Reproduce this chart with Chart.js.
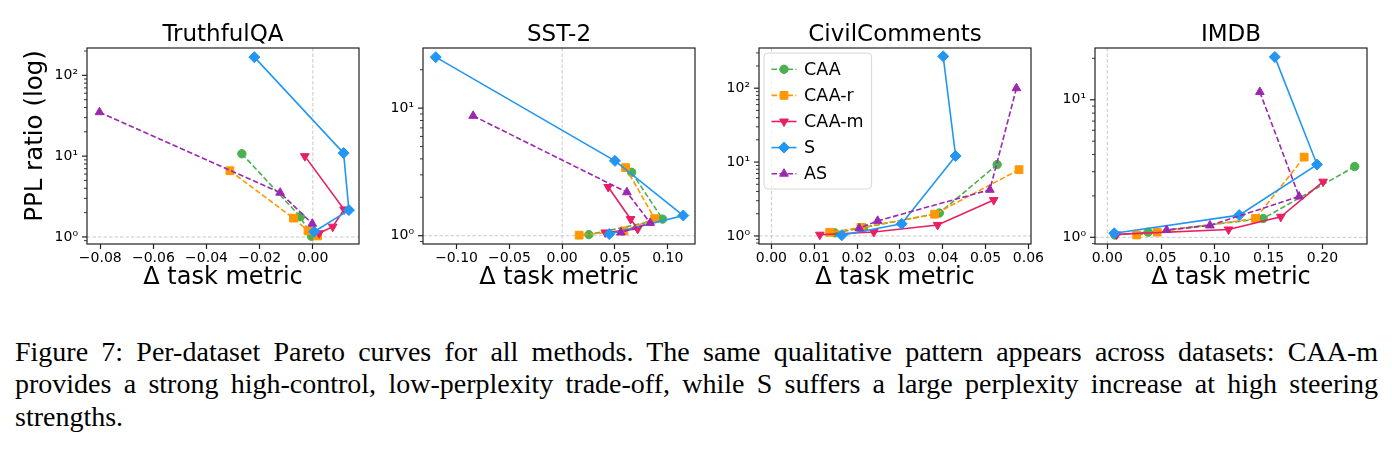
<!DOCTYPE html>
<html>
<head>
<meta charset="utf-8">
<script src="https://cdn.jsdelivr.net/npm/chart.js@4.4.1/dist/chart.umd.min.js"></script>
<style>
  body { margin: 0; width: 1392px; height: 453px; overflow: hidden; position: relative; background: #fff; }
  canvas { position: absolute; top: 0; }
  .cap { position: absolute; left: 15px; font-family: "Liberation Serif", "Times New Roman", serif; font-size: 28px; line-height: 28px; white-space: nowrap; color: #000; transform-origin: 0 0; }
</style>
</head>
<body>
<canvas id="c0" width="380" height="300" style="left:0px"></canvas>
<canvas id="c1" width="380" height="300" style="left:336px"></canvas>
<canvas id="c2" width="380" height="300" style="left:672px"></canvas>
<canvas id="c3" width="380" height="300" style="left:1008px"></canvas>
<div class="cap" id="cap0" style="top:337.5px">Figure 7: Per-dataset Pareto curves for all methods. The same qualitative pattern appears across datasets: CAA-m</div>
<div class="cap" id="cap1" style="top:370px">provides a strong high-control, low-perplexity trade-off, while S suffers a large perplexity increase at high steering</div>
<div class="cap" id="cap2" style="top:402.5px">strengths.</div>
<script>
// Données : [Δ task metric, PPL ratio]
const panelNames = ["TruthfulQA", "SST-2", "CivilComments", "IMDB"];
const methodNames = ["CAA", "CAA-r", "CAA-m", "S", "AS"];

const truthfulqaCAA  = [[-0.0267, 10.7], [-0.0047, 1.78], [-0.0005, 1.02]];
const truthfulqaCAAr = [[-0.0312, 6.6], [-0.0073, 1.71], [-0.0018, 1.19], [0.0018, 1.03]];
const truthfulqaCAAm = [[-0.0030, 10.0], [0.0118, 2.19], [0.0075, 1.34], [0.0024, 1.11]];
const truthfulqaS    = [[-0.0220, 168], [0.0116, 10.9], [0.0136, 2.15], [0.0005, 1.16]];
const truthfulqaAS   = [[-0.0803, 35], [-0.0123, 3.53], [-0.0002, 1.46]];

const sst2CAA  = [[0.0658, 3.14], [0.0951, 1.35], [0.0253, 1.02]];
const sst2CAAr = [[0.0601, 3.42], [0.0876, 1.36], [0.0585, 1.09], [0.0161, 1.01]];
const sst2CAAm = [[0.0436, 2.41], [0.0648, 1.35], [0.0715, 1.13], [0.0408, 1.06]];
const sst2S    = [[-0.1197, 25.1], [0.0500, 3.86], [0.1147, 1.44], [0.0446, 1.03]];
const sst2AS   = [[-0.0843, 8.7], [0.0613, 2.19], [0.0834, 1.26], [0.0556, 1.06]];

const civilCAA  = [[0.0527, 9.25], [0.0392, 2.04], [0.0215, 1.30], [0.0148, 1.10]];
const civilCAAr = [[0.0578, 7.9], [0.0381, 1.97], [0.0209, 1.30], [0.0136, 1.12]];
const civilCAAm = [[0.0519, 3.06], [0.0388, 1.41], [0.0239, 1.13], [0.0113, 1.04]];
const civilS    = [[0.0401, 270], [0.0430, 12.1], [0.0304, 1.46], [0.0164, 1.02]];
const civilAS   = [[0.0572, 100], [0.0510, 4.22], [0.0248, 1.60], [0.0205, 1.27]];

const imdbCAA  = [[0.2300, 3.27], [0.1449, 1.37], [0.0380, 1.09], [0.0070, 1.04]];
const imdbCAAr = [[0.1830, 3.83], [0.1378, 1.37], [0.0464, 1.09], [0.0273, 1.04]];
const imdbCAAm = [[0.2006, 2.54], [0.1613, 1.41], [0.1127, 1.14], [0.0087, 1.05]];
const imdbS    = [[0.1557, 20.5], [0.1950, 3.38], [0.1226, 1.45], [0.0065, 1.07]];
const imdbAS   = [[0.1418, 11.4], [0.1783, 1.98], [0.0954, 1.22], [0.0552, 1.13]];

const panelSeries = [
  [truthfulqaCAA, truthfulqaCAAr, truthfulqaCAAm, truthfulqaS, truthfulqaAS],
  [sst2CAA, sst2CAAr, sst2CAAm, sst2S, sst2AS],
  [civilCAA, civilCAAr, civilCAAm, civilS, civilAS],
  [imdbCAA, imdbCAAr, imdbCAAm, imdbS, imdbAS],
];

// Bornes et pas des axes
const xMins = [-0.085, -0.1318, -0.0029, -0.0114];
const xMaxs = [0.0174, 0.1258, 0.0606, 0.2414];
const xSteps = [0.02, 0.05, 0.01, 0.05];
const yMins = [0.818, 0.861, 0.778, 0.894];
const yMaxs = [218, 29.6, 350, 23.8];

// Styles des séries
const colors = ["#4CAF50", "#FF9800", "#E91E63", "#2196F3", "#9C27B0"];
const dashes = [[5.5, 2.5], [5.5, 2.5], [], [], [5.5, 2.5]];
const markers = ["circle", "rect", "triangle", "rectRot", "triangle"];
const rotations = [0, 0, 180, 0, 0];
const radii = [4.2, 5.5, 5, 5.5, 5];

Chart.defaults.font.family = "'DejaVu Sans', sans-serif";
Chart.defaults.color = "#000";

const supDigits = { "0": "\u2070", "1": "\u00B9", "2": "\u00B2", "3": "\u00B3", "-": "\u207B" };
function isDecade(v) {
  const l = Math.log10(v);
  return Math.abs(l - Math.round(l)) < 1e-9;
}
function formatY(v) {
  if (!isDecade(v)) return "";
  const e = String(Math.round(Math.log10(v)));
  return "10" + e.split("").map(c => supDigits[c]).join("");
}
function formatX(v) {
  if (Math.abs(v) < 1e-9) return "0.00";
  return (v < 0 ? "\u2212" : "") + Math.abs(v).toFixed(2);
}

// Plugin : lignes de référence, cadre, petites graduations, titres, légende
const decor = {
  id: "decor",
  beforeDatasetsDraw(chart) {
    const { ctx, chartArea: a, scales: { x, y } } = chart;
    ctx.save();
    ctx.strokeStyle = "#c4c4c4";
    ctx.lineWidth = 0.9;
    ctx.setLineDash([3.5, 2]);
    const x0 = x.getPixelForValue(0);
    const y1 = y.getPixelForValue(1);
    ctx.beginPath();
    ctx.moveTo(x0, a.top); ctx.lineTo(x0, a.bottom);
    ctx.moveTo(a.left, y1); ctx.lineTo(a.right, y1);
    ctx.stroke();
    ctx.restore();
  },
  afterDatasetsDraw(chart, args, opts) {
    const { ctx, chartArea: a, scales: { y } } = chart;
    ctx.save();
    // cadre
    ctx.strokeStyle = "#222";
    ctx.lineWidth = 1.2;
    ctx.strokeRect(a.left, a.top, a.right - a.left, a.bottom - a.top);
    // graduations de l'axe log
    y.ticks.forEach(t => {
      const py = y.getPixelForValue(t.value);
      const major = isDecade(t.value);
      ctx.lineWidth = major ? 1.2 : 0.9;
      ctx.beginPath();
      ctx.moveTo(a.left - (major ? 5 : 3), py);
      ctx.lineTo(a.left, py);
      ctx.stroke();
    });
    // titre du panneau
    ctx.fillStyle = "#000";
    ctx.font = "23px 'DejaVu Sans'";
    ctx.textAlign = "center";
    ctx.textBaseline = "alphabetic";
    ctx.fillText(opts.title, (a.left + a.right) / 2, a.top - 7.5);
    // titre de l'axe y
    if (opts.yLabel) {
      ctx.save();
      ctx.translate(a.left - 45.5, (a.top + a.bottom) / 2 - 10);
      ctx.rotate(-Math.PI / 2);
      ctx.font = "24.5px 'DejaVu Sans'";
      ctx.fillText(opts.yLabel, 0, 0);
      ctx.restore();
    }
    if (opts.legend) drawLegend(chart);
    ctx.restore();
  },
};

function drawLegend(chart) {
  const { ctx, chartArea: a } = chart;
  ctx.save();
  ctx.font = "17.5px 'DejaVu Sans'";
  const textW = Math.max(...methodNames.map(m => ctx.measureText(m).width));
  const left = a.left + 5, top = a.top + 5;
  const w = 40 + textW + 8, h = 136;
  ctx.beginPath();
  ctx.roundRect(left, top, w, h, 4);
  ctx.fillStyle = "rgba(255,255,255,0.8)";
  ctx.fill();
  ctx.strokeStyle = "#d6d6d6";
  ctx.lineWidth = 1;
  ctx.stroke();
  methodNames.forEach((m, k) => {
    const cy = top + 16.3 + k * 26.1;
    ctx.strokeStyle = colors[k];
    ctx.lineWidth = 1.6;
    ctx.setLineDash(dashes[k]);
    ctx.beginPath();
    ctx.moveTo(left + 7.5, cy);
    ctx.lineTo(left + 32.5, cy);
    ctx.stroke();
    ctx.setLineDash([]);
    ctx.fillStyle = colors[k];
    ctx.lineWidth = 1;
    Chart.helpers.drawPoint(ctx, {
      pointStyle: markers[k], rotation: rotations[k], radius: radii[k], borderWidth: 1,
    }, left + 20, cy);
    ctx.fillStyle = "#000";
    ctx.textAlign = "left";
    ctx.textBaseline = "middle";
    ctx.fillText(m, left + 40, cy + 1);
  });
  ctx.restore();
}

function buildLogTicks(scale) {
  const ticks = [];
  for (let e = -2; e <= 4; e++) {
    for (let s = 1; s <= 9; s++) {
      const v = s * Math.pow(10, e);
      if (v >= scale.min && v <= scale.max) ticks.push({ value: v });
    }
  }
  scale.ticks = ticks;
}

function criarPainel(i) {
  const datasets = methodNames.map((m, k) => ({
    label: m,
    data: panelSeries[i][k].map(p => ({ x: p[0], y: p[1] })),
    showLine: true,
    borderColor: colors[k],
    backgroundColor: colors[k],
    borderWidth: 1.6,
    borderDash: dashes[k],
    pointStyle: markers[k],
    pointRotation: rotations[k],
    pointRadius: radii[k],
    pointBorderWidth: 1,
    pointBorderColor: colors[k],
    pointBackgroundColor: colors[k],
    order: 5 - k,
  }));
  return new Chart(document.getElementById("c" + i), {
    type: "scatter",
    data: { datasets },
    options: {
      responsive: false,
      animation: false,
      devicePixelRatio: 1,
      events: [],
      layout: { padding: { top: 48, left: 0, right: 21, bottom: 0 }, autoPadding: false },
      plugins: {
        legend: { display: false },
        tooltip: { enabled: false },
        decor: { title: panelNames[i], yLabel: i === 0 ? "PPL ratio (log)" : "", legend: i === 2 },
      },
      scales: {
        x: {
          type: "linear",
          min: xMins[i],
          max: xMaxs[i],
          afterFit(s) { s.height = 56; s.paddingLeft = 0; s.paddingRight = 0; },
          ticks: { stepSize: xSteps[i], includeBounds: false, autoSkip: false, maxRotation: 0, minRotation: 0, padding: 1, font: { size: 14 }, callback: formatX },
          grid: { drawOnChartArea: false, drawTicks: true, tickLength: 5, color: "#222", tickWidth: 1.2 },
          border: { display: false },
          title: { display: true, text: "\u0394 task metric", font: { size: 24 }, padding: { top: 0, bottom: 7.4 } },
        },
        y: {
          type: "logarithmic",
          min: yMins[i],
          max: yMaxs[i],
          afterBuildTicks: buildLogTicks,
          afterFit(s) { s.width = 87; s.paddingTop = 0; s.paddingBottom = 0; },
          ticks: { autoSkip: false, padding: 4, font: { size: 14 }, callback: formatY },
          grid: { drawOnChartArea: false, drawTicks: true, tickLength: 5, color: "rgba(0,0,0,0)" },
          border: { display: false },
        },
      },
    },
    plugins: [decor],
  });
}

[0, 1, 2, 3].forEach(criarPainel);

// Légende de la figure, justifiée sur la largeur
function justificarLegenda() {
  const target = 1363;
  ["cap0", "cap1"].forEach(id => {
    const el = document.getElementById(id);
    el.style.wordSpacing = "0px";
    el.style.transform = "none";
    const w = el.getBoundingClientRect().width;
    const spaces = (el.textContent.match(/ /g) || []).length;
    if (w <= target) {
      el.style.wordSpacing = ((target - w) / spaces) + "px";
    } else {
      el.style.transform = "scaleX(" + (target / w) + ")";
    }
  });
}
justificarLegenda();
if (document.fonts && document.fonts.ready) document.fonts.ready.then(justificarLegenda);
</script>
</body>
</html>
